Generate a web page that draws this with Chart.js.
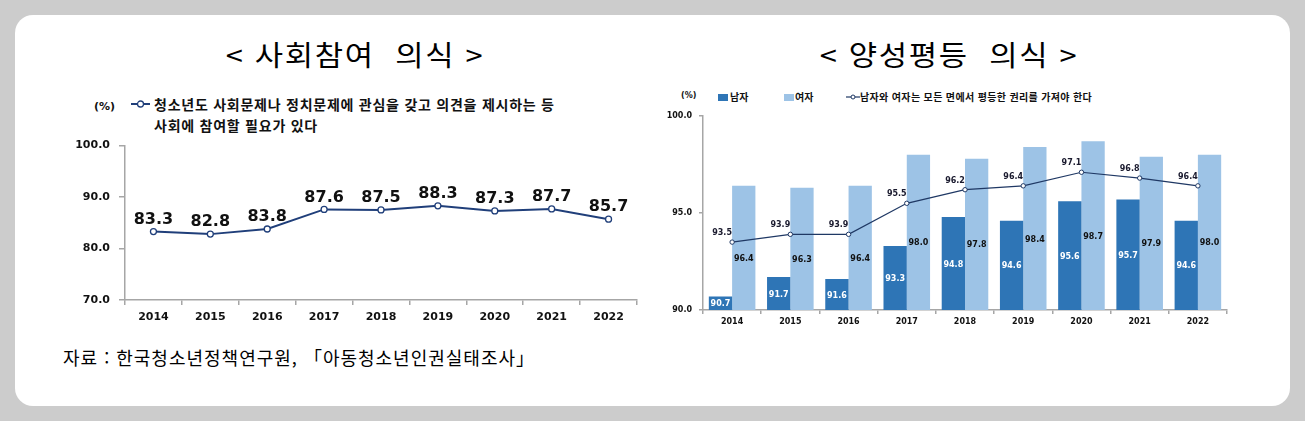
<!DOCTYPE html>
<html lang="ko">
<head>
<meta charset="utf-8">
<script src="https://cdn.jsdelivr.net/npm/chart.js@4.4.1/dist/chart.umd.min.js"></script>
<style>
  html, body { margin:0; padding:0; background:#cccccc; width:1305px; height:421px; overflow:hidden; }
  #card { position:absolute; left:15px; top:15px; width:1275px; height:391px; background:#fff; border-radius:18px; }
  .abs { position:absolute; }
  .title { font-family:"Noto Sans CJK KR","Noto Sans",sans-serif; font-size:28px; font-weight:400; color:#000; white-space:pre; transform:translate(-50%,-50%) scaleX(1.1); line-height:1; letter-spacing:1.5px; }
  .lg { font-family:"Noto Sans CJK KR","DejaVu Sans",sans-serif; font-weight:700; color:#111; white-space:pre; line-height:1; }
  .unit { font-family:"DejaVu Sans",sans-serif; font-weight:700; color:#111; white-space:pre; line-height:1; }
  .src { font-family:"Noto Sans CJK KR",sans-serif; font-size:18px; color:#000; white-space:pre; line-height:1; letter-spacing:1px; }
  canvas { position:absolute; }
</style>
</head>
<body>
<div id="card"></div>

<div class="abs title" style="left:355px; top:54px;">&lt; 사회참여  의식 &gt;</div>
<div class="abs title" style="left:949px; top:54px;">&lt; 양성평등  의식 &gt;</div>

<!-- left legend -->
<div class="abs unit" style="left:94px; top:101px; font-size:11px;">(%)</div>
<svg class="abs" style="left:130px; top:99px;" width="22" height="10">
  <line x1="1" y1="5" x2="20" y2="5" stroke="#203f7a" stroke-width="2"/>
  <circle cx="10.5" cy="5" r="3" fill="#fff" stroke="#203f7a" stroke-width="1.3"/>
</svg>
<div class="abs lg" style="left:154px; top:97px; font-size:14px; letter-spacing:0.75px;">청소년도 사회문제나 정치문제에 관심을 갖고 의견을 제시하는 등</div>
<div class="abs lg" style="left:154px; top:118px; font-size:14px; letter-spacing:0.75px;">사회에 참여할 필요가 있다</div>

<!-- right legend -->
<div class="abs unit" style="left:681px; top:92px; font-size:8px;">(%)</div>
<div class="abs" style="left:718px; top:94px; width:10px; height:7px; background:#2e75b6;"></div>
<div class="abs lg" style="left:730px; top:92px; font-size:10px;">남자</div>
<div class="abs" style="left:784px; top:94px; width:10px; height:7px; background:#9dc3e6;"></div>
<div class="abs lg" style="left:795px; top:92px; font-size:10px;">여자</div>
<svg class="abs" style="left:846px; top:93px;" width="14" height="8">
  <line x1="0" y1="4" x2="14" y2="4" stroke="#1f3864" stroke-width="1.2"/>
  <circle cx="7" cy="4" r="2" fill="#fff" stroke="#1f3864" stroke-width="1"/>
</svg>
<div class="abs lg" style="left:860px; top:92px; font-size:10px; letter-spacing:0.35px;">남자와 여자는 모든 면에서 평등한 권리를 가져야 한다</div>

<div class="abs src" style="left:63px; top:348px;">자료 : 한국청소년정책연구원, 「아동청소년인권실태조사」</div>

<canvas id="c1" width="600" height="200" style="left:60px; top:130px;"></canvas>
<canvas id="c2" width="620" height="230" style="left:640px; top:100px;"></canvas>

<script>
// ---------- data ----------
const years = ['2014','2015','2016','2017','2018','2019','2020','2021','2022'];
const participation = [83.3, 82.8, 83.8, 87.6, 87.5, 88.3, 87.3, 87.7, 85.7];
const male = [90.7, 91.7, 91.6, 93.3, 94.8, 94.6, 95.6, 95.7, 94.6];
const female = [96.4, 96.3, 96.4, 98.0, 97.8, 98.4, 98.7, 97.9, 98.0];
const equalRights = [93.5, 93.9, 93.9, 95.5, 96.2, 96.4, 97.1, 96.8, 96.4];
const leftTicks = [70, 80, 90, 100];
const rightTicks = [90, 95, 100];

// ---------- label plugin ----------
const valueLabels = {
  id: 'valueLabels',
  afterDatasetsDraw(chart) {
    const ctx = chart.ctx;
    const bottom = chart.chartArea.bottom;
    chart.data.datasets.forEach((ds, di) => {
      const cfg = ds.labelStyle;
      if (!cfg) return;
      const meta = chart.getDatasetMeta(di);
      meta.data.forEach((el, i) => {
        const v = ds.data[i];
        const p = el.getProps(['x', 'y', 'base'], true);
        const x = p.x + (cfg.dx || 0);
        let y;
        if (cfg.mode === 'center') {
          const base = Math.min(p.base, bottom);
          y = (p.y + base) / 2 + (cfg.dy || 0);
        } else {
          y = p.y + (cfg.dy || 0);
        }
        ctx.save();
        ctx.font = cfg.font;
        ctx.fillStyle = cfg.color;
        ctx.textAlign = 'center';
        ctx.textBaseline = 'middle';
        ctx.fillText(v.toFixed(1), x, y);
        ctx.restore();
      });
    });
  }
};

const axisGray = '#a6a6a6';

// ---------- left chart ----------
new Chart(document.getElementById('c1'), {
  type: 'line',
  data: {
    labels: years,
    datasets: [{
      data: participation,
      borderColor: '#203f7a',
      borderWidth: 2,
      pointRadius: 3,
      pointBackgroundColor: '#ffffff',
      pointBorderColor: '#203f7a',
      pointBorderWidth: 1.3,
      tension: 0,
      labelStyle: { font: 'bold 16px "DejaVu Sans"', color: '#111', dy: -12 }
    }]
  },
  options: {
    responsive: false, animation: false, devicePixelRatio: 1,
    layout: { padding: { top: 12, right: 23, bottom: 0, left: 0 } },
    plugins: { legend: { display: false }, tooltip: { enabled: false } },
    scales: {
      x: {
        offset: true,
        grid: { offset: true, drawOnChartArea: false, drawTicks: true, tickLength: 5, color: axisGray, lineWidth: 1.5 },
        border: { display: true, color: axisGray, width: 1.5 },
        ticks: { padding: 6, color: '#111', font: { family: 'DejaVu Sans', size: 11, weight: 'bold' }, maxRotation: 0 },
        afterFit(s) { s.height = 30; }
      },
      y: {
        min: 70, max: 100,
        afterBuildTicks(s) { s.ticks = leftTicks.map(v => ({ value: v })); },
        grid: { drawOnChartArea: false, drawTicks: true, tickLength: 6, color: axisGray, lineWidth: 1.5 },
        border: { display: true, color: axisGray, width: 1.5 },
        ticks: { padding: 9, color: '#111', font: { family: 'DejaVu Sans', size: 11, weight: 'bold' }, callback: v => Number(v).toFixed(1) },
        afterFit(s) { s.width = 65; }
      }
    }
  },
  plugins: [valueLabels]
});

// ---------- right chart ----------
new Chart(document.getElementById('c2'), {
  data: {
    labels: years,
    datasets: [
      {
        type: 'line',
        data: equalRights,
        order: 0,
        borderColor: '#1f3864',
        borderWidth: 1.2,
        pointRadius: 2.2,
        pointBackgroundColor: '#ffffff',
        pointBorderColor: '#1f3864',
        pointBorderWidth: 1,
        tension: 0,
        labelStyle: { font: 'bold 8px "DejaVu Sans"', color: '#1a1a2e', dx: -10, dy: -9 }
      },
      {
        type: 'bar',
        data: male,
        order: 1,
        backgroundColor: '#2e75b6',
        categoryPercentage: 0.8, barPercentage: 1.0,
        labelStyle: { font: 'bold 8px "DejaVu Sans"', color: '#ffffff', mode: 'center', dy: 1 }
      },
      {
        type: 'bar',
        data: female,
        order: 1,
        backgroundColor: '#9dc3e6',
        categoryPercentage: 0.8, barPercentage: 1.0,
        labelStyle: { font: 'bold 8px "DejaVu Sans"', color: '#111', mode: 'center', dy: 11 }
      }
    ]
  },
  options: {
    responsive: false, animation: false, devicePixelRatio: 1,
    layout: { padding: { top: 16, right: 33, bottom: 0, left: 0 } },
    plugins: { legend: { display: false }, tooltip: { enabled: false } },
    scales: {
      x: {
        offset: true,
        grid: { offset: true, drawOnChartArea: false, drawTicks: true, tickLength: 4, color: axisGray, lineWidth: 1.5 },
        border: { display: true, color: axisGray, width: 1.5 },
        ticks: { padding: 3, color: '#111', font: { family: 'DejaVu Sans', size: 8, weight: 'bold' }, maxRotation: 0 },
        afterFit(s) { s.height = 20; }
      },
      y: {
        min: 90, max: 100,
        afterBuildTicks(s) { s.ticks = rightTicks.map(v => ({ value: v })); },
        grid: { drawOnChartArea: false, drawTicks: true, tickLength: 4, color: axisGray, lineWidth: 1.5 },
        border: { display: true, color: axisGray, width: 1.5 },
        ticks: { padding: 7, color: '#111', font: { family: 'DejaVu Sans', size: 8, weight: 'bold' }, callback: v => Number(v).toFixed(1) },
        afterFit(s) { s.width = 63; }
      }
    }
  },
  plugins: [valueLabels]
});
</script>
</body>
</html>
